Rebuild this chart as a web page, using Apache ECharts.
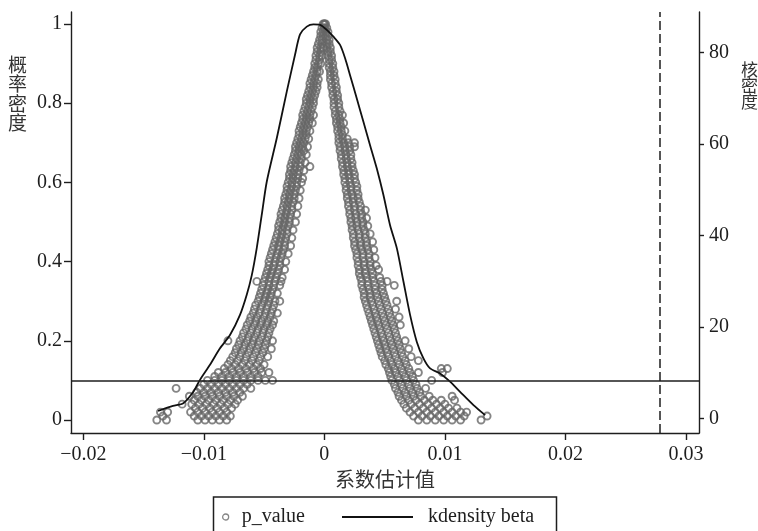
<!DOCTYPE html>
<html>
<head>
<meta charset="utf-8">
<script src="https://cdn.jsdelivr.net/npm/echarts@6/dist/echarts.min.js"></script>
<style>
html,body{margin:0;padding:0;background:#fff;}
#chart{width:758px;height:531px;}
</style>
</head>
<body>
<div id="chart"></div>
<script>
// ---- data ----
const xTicks = [-0.02, -0.01, 0, 0.01, 0.02, 0.03];
const yLeftTicks = [0, 0.2, 0.4, 0.6, 0.8, 1];
const yRightTicks = [0, 20, 40, 60, 80];
const pThreshold = 0.1;
const betaRef = 0.0278;

// kernel density of beta (right axis)
const kdBeta = [-0.0138,-0.01256,-0.0117,-0.01087,-0.01032,-0.00949,-0.00866,-0.00783,-0.0070,-0.00644,-0.00602,-0.00561,-0.0052,-0.00478,-0.00395,-0.00312,-0.00243,-0.00202,-0.00146,-0.00091,-0.00036,0.0002,0.00075,0.0013,0.00172,0.00213,0.00269,0.00324,0.00379,0.00435,0.0049,0.00545,0.00601,0.00656,0.00711,0.00767,0.00822,0.00877,0.0096,0.01043,0.01126,0.01237,0.01334];
const kdDens = [1.6,2.7,3.3,5.8,8.4,11.7,15.3,18.2,22.6,27.0,31.3,37.2,44.4,51.7,61.2,71.4,79.5,83.9,85.6,86.1,86.0,84.9,83.4,81.6,78.7,75.0,69.9,64.8,59.7,54.6,48.8,42.2,37.2,29.9,22.6,16.7,13.1,10.9,9.8,8.0,5.8,2.9,0.7];

// p_value rows: [p, beta1, beta2, ...]  (negative-beta branch)
const pRowsLeft = [
[1.00,-0.0001,0.0000],[0.99,-0.0002,0.0000],[0.98,-0.0003,-0.0001],[0.97,-0.0003,-0.0001],
[0.96,-0.0004,-0.0002],[0.95,-0.0005,-0.0002],[0.94,-0.0006,-0.0003,-0.0001],[0.93,-0.0006,-0.0003],
[0.92,-0.0007,-0.0004,-0.0002],[0.91,-0.0007,-0.0004],[0.90,-0.0008,-0.0005,-0.0003],[0.89,-0.0008,-0.0006],
[0.88,-0.0009,-0.0006,-0.0004],[0.87,-0.0010,-0.0007],[0.86,-0.0011,-0.0008,-0.0005],[0.85,-0.0012,-0.0009,-0.0006],
[0.84,-0.0012,-0.0009,-0.0006],[0.83,-0.0013,-0.0010,-0.0007],[0.82,-0.0014,-0.0011,-0.0008],[0.81,-0.0015,-0.0012,-0.0009],
[0.80,-0.0015,-0.0012,-0.0009],[0.79,-0.0016,-0.0013,-0.0010],[0.78,-0.0017,-0.0014,-0.0011],[0.77,-0.0018,-0.0015,-0.0012,-0.0009],
[0.76,-0.0018,-0.0015,-0.0012],[0.75,-0.0019,-0.0016,-0.0013,-0.0010],[0.74,-0.0020,-0.0017,-0.0014],[0.73,-0.0021,-0.0018,-0.0015,-0.0012],
[0.72,-0.0021,-0.0018,-0.0015],[0.71,-0.0022,-0.0019,-0.0016,-0.0013],[0.70,-0.0023,-0.0020,-0.0017],[0.69,-0.0024,-0.0021,-0.0018,-0.0014],
[0.68,-0.0024,-0.0021,-0.0017],[0.67,-0.0025,-0.0022,-0.0019,-0.0015],[0.66,-0.0026,-0.0023,-0.0019],[0.65,-0.0027,-0.0024,-0.0020,-0.0016],
[0.64,-0.0028,-0.0024,-0.0020,-0.0012],[0.63,-0.0028,-0.0025,-0.0021,-0.0017],[0.62,-0.0029,-0.0026,-0.0022],[0.61,-0.0029,-0.0026,-0.0022,-0.0018],
[0.60,-0.0030,-0.0027,-0.0023,-0.0019],[0.59,-0.0031,-0.0027,-0.0023],[0.58,-0.0031,-0.0028,-0.0024,-0.0020],[0.57,-0.0032,-0.0029,-0.0025],
[0.56,-0.0033,-0.0029,-0.0025,-0.0021],[0.55,-0.0033,-0.0030,-0.0026],[0.54,-0.0034,-0.0031,-0.0027,-0.0022],[0.53,-0.0035,-0.0031,-0.0027],
[0.52,-0.0036,-0.0032,-0.0028,-0.0023],[0.51,-0.0036,-0.0033,-0.0029],[0.50,-0.0037,-0.0033,-0.0029,-0.0024],[0.49,-0.0038,-0.0034,-0.0030],
[0.48,-0.0038,-0.0035,-0.0031,-0.0026],[0.47,-0.0039,-0.0035,-0.0031],[0.46,-0.0040,-0.0036,-0.0032,-0.0027],[0.45,-0.0041,-0.0037,-0.0033],
[0.44,-0.0042,-0.0038,-0.0033,-0.0028],[0.43,-0.0043,-0.0038,-0.0034],[0.42,-0.0044,-0.0039,-0.0035,-0.0030],[0.41,-0.0045,-0.0040,-0.0036],
[0.40,-0.0046,-0.0041,-0.0037,-0.0032],[0.39,-0.0046,-0.0042,-0.0037],[0.38,-0.0047,-0.0043,-0.0038,-0.0033],[0.37,-0.0048,-0.0044,-0.0039],
[0.36,-0.0049,-0.0045,-0.0040,-0.0035],[0.35,-0.0056,-0.0050,-0.0046,-0.0041,-0.0036],[0.34,-0.0051,-0.0046,-0.0042,-0.0037],[0.33,-0.0052,-0.0047,-0.0043],
[0.32,-0.0053,-0.0048,-0.0044,-0.0039],[0.31,-0.0054,-0.0049,-0.0045],[0.30,-0.0055,-0.0050,-0.0046,-0.0041,-0.0037],
[0.29,-0.0057,-0.0052,-0.0047,-0.0042],[0.28,-0.0058,-0.0053,-0.0048,-0.0043],[0.27,-0.0059,-0.0054,-0.0049,-0.0044,-0.0039],
[0.26,-0.0061,-0.0056,-0.0050,-0.0045],[0.25,-0.0062,-0.0057,-0.0052,-0.0047,-0.0042],[0.24,-0.0064,-0.0058,-0.0053,-0.0048,-0.0043],
[0.23,-0.0065,-0.0060,-0.0055,-0.0050,-0.0045],[0.22,-0.0067,-0.0061,-0.0056,-0.0051,-0.0046],[0.21,-0.0068,-0.0063,-0.0058,-0.0052,-0.0047],
[0.20,-0.0080,-0.0070,-0.0064,-0.0059,-0.0054,-0.0048,-0.0043],[0.19,-0.0071,-0.0066,-0.0060,-0.0055,-0.0049],
[0.18,-0.0073,-0.0067,-0.0062,-0.0056,-0.0050,-0.0044],[0.17,-0.0074,-0.0069,-0.0063,-0.0057,-0.0051],
[0.16,-0.0076,-0.0070,-0.0065,-0.0059,-0.0053,-0.0047],[0.15,-0.0078,-0.0072,-0.0066,-0.0060,-0.0054],
[0.14,-0.0080,-0.0074,-0.0068,-0.0062,-0.0056,-0.0050],[0.13,-0.0083,-0.0077,-0.0071,-0.0065,-0.0059,-0.0053],
[0.12,-0.0088,-0.0082,-0.0076,-0.0070,-0.0064,-0.0058,-0.0052,-0.0046],[0.11,-0.0091,-0.0085,-0.0079,-0.0073,-0.0067,-0.0061,-0.0055],
[0.10,-0.0097,-0.0091,-0.0085,-0.0079,-0.0073,-0.0067,-0.0061,-0.0055,-0.0049,-0.0043],[0.09,-0.0100,-0.0094,-0.0088,-0.0082,-0.0076,-0.0070,-0.0064],
[0.08,-0.0123,-0.0103,-0.0097,-0.0091,-0.0085,-0.0079,-0.0073,-0.0067,-0.0061],[0.07,-0.0106,-0.0100,-0.0094,-0.0088,-0.0082,-0.0076,-0.0070],
[0.06,-0.0112,-0.0105,-0.0099,-0.0093,-0.0087,-0.0081,-0.0075,-0.0068],[0.05,-0.0108,-0.0102,-0.0096,-0.0090,-0.0084,-0.0078,-0.0072],
[0.04,-0.0118,-0.0110,-0.0104,-0.0098,-0.0092,-0.0086,-0.0080,-0.0074],[0.03,-0.0107,-0.0101,-0.0095,-0.0089,-0.0083,-0.0077],
[0.02,-0.0136,-0.0130,-0.0111,-0.0105,-0.0099,-0.0093,-0.0087,-0.0081],[0.01,-0.0134,-0.0108,-0.0102,-0.0096,-0.0090,-0.0084,-0.0078],
[0.00,-0.0139,-0.0131,-0.0105,-0.0099,-0.0093,-0.0087,-0.0081]
];

// p_value rows: [p, beta1, beta2, ...]  (positive-beta branch)
const pRowsRight = [
[1.00,0.0000,0.0001],[0.99,0.0000,0.0002],[0.98,0.0001,0.0003],[0.97,0.0001,0.0003],
[0.96,0.0002,0.0004],[0.95,0.0002,0.0004],[0.94,0.0002,0.0005],[0.93,0.0003,0.0005],
[0.92,0.0003,0.0006],[0.91,0.0004,0.0006],[0.90,0.0004,0.0007],[0.89,0.0004,0.0007],
[0.88,0.0005,0.0008],[0.87,0.0005,0.0008],[0.86,0.0005,0.0009],[0.85,0.0006,0.0009],
[0.84,0.0006,0.0010],[0.83,0.0007,0.0010],[0.82,0.0007,0.0011],[0.81,0.0008,0.0011],
[0.80,0.0008,0.0012],[0.79,0.0008,0.0012],[0.78,0.0009,0.0013],[0.77,0.0009,0.0012,0.0015],
[0.76,0.0010,0.0013],[0.75,0.0010,0.0013,0.0016],[0.74,0.0011,0.0014],[0.73,0.0011,0.0014,0.0017],
[0.72,0.0012,0.0015],[0.71,0.0012,0.0015,0.0019],[0.70,0.0012,0.0016,0.0020,0.0025],[0.69,0.0013,0.0017,0.0021,0.0025],
[0.68,0.0013,0.0017,0.0021],[0.67,0.0014,0.0018,0.0022],[0.66,0.0014,0.0018,0.0022],[0.65,0.0015,0.0019,0.0023],
[0.64,0.0015,0.0019,0.0023],[0.63,0.0016,0.0020,0.0024],[0.62,0.0016,0.0020,0.0025],[0.61,0.0017,0.0021,0.0025],
[0.60,0.0017,0.0021,0.0026],[0.59,0.0018,0.0022,0.0027],[0.58,0.0018,0.0022,0.0027],[0.57,0.0019,0.0023,0.0028],
[0.56,0.0019,0.0024,0.0028],[0.55,0.0020,0.0024,0.0029],[0.54,0.0020,0.0025,0.0030],[0.53,0.0021,0.0025,0.0030,0.0034],
[0.52,0.0021,0.0026,0.0031],[0.51,0.0022,0.0026,0.0031,0.0035],[0.50,0.0022,0.0027,0.0032],[0.49,0.0023,0.0027,0.0032,0.0036],
[0.48,0.0023,0.0028,0.0033],[0.47,0.0024,0.0029,0.0034,0.0038],[0.46,0.0024,0.0029,0.0034],[0.45,0.0025,0.0030,0.0035,0.0040],
[0.44,0.0025,0.0030,0.0035],[0.43,0.0026,0.0031,0.0036,0.0041],[0.42,0.0027,0.0032,0.0037],[0.41,0.0027,0.0032,0.0037,0.0042],
[0.40,0.0028,0.0033,0.0038],[0.39,0.0028,0.0033,0.0038,0.0043],[0.38,0.0029,0.0034,0.0039,0.0045],[0.37,0.0029,0.0034,0.0040],
[0.36,0.0030,0.0035,0.0040,0.0046],[0.35,0.0031,0.0036,0.0041,0.0047,0.0052],[0.34,0.0031,0.0036,0.0042,0.0048,0.0058],[0.33,0.0032,0.0037,0.0042,0.0048],
[0.32,0.0033,0.0038,0.0043,0.0049],[0.31,0.0033,0.0038,0.0044,0.0050],[0.30,0.0034,0.0039,0.0045,0.0051,0.0060],
[0.29,0.0035,0.0040,0.0046,0.0052],[0.28,0.0036,0.0041,0.0047,0.0053,0.0059],[0.27,0.0037,0.0042,0.0048,0.0054],
[0.26,0.0038,0.0043,0.0049,0.0055,0.0062],[0.25,0.0039,0.0044,0.0050,0.0056],[0.24,0.0040,0.0045,0.0051,0.0057,0.0063],
[0.23,0.0041,0.0046,0.0052,0.0058],[0.22,0.0042,0.0047,0.0053,0.0059],[0.21,0.0043,0.0048,0.0054,0.0060],
[0.20,0.0044,0.0049,0.0055,0.0061,0.0067],[0.19,0.0045,0.0050,0.0056,0.0062],[0.18,0.0046,0.0051,0.0057,0.0063,0.0070],
[0.17,0.0047,0.0052,0.0058,0.0064],[0.16,0.0048,0.0053,0.0059,0.0065,0.0072],[0.15,0.0050,0.0055,0.0061,0.0067,0.0078],
[0.14,0.0051,0.0056,0.0062,0.0068],[0.13,0.0053,0.0058,0.0064,0.0070,0.0097,0.0102],[0.12,0.0054,0.0059,0.0065,0.0071,0.0078,0.0098],
[0.11,0.0055,0.0061,0.0067,0.0073],[0.10,0.0056,0.0062,0.0068,0.0074,0.0089],[0.09,0.0058,0.0064,0.0070,0.0076],
[0.08,0.0059,0.0065,0.0071,0.0077,0.0084],[0.07,0.0061,0.0067,0.0073,0.0079],[0.06,0.0062,0.0068,0.0074,0.0080,0.0087,0.0106],
[0.05,0.0064,0.0070,0.0076,0.0083,0.0090,0.0097,0.0108],[0.04,0.0066,0.0072,0.0079,0.0086,0.0093,0.0100],
[0.03,0.0068,0.0075,0.0082,0.0089,0.0096,0.0103,0.0110],[0.02,0.0071,0.0078,0.0085,0.0092,0.0099,0.0106,0.0113,0.0118],
[0.01,0.0074,0.0081,0.0088,0.0095,0.0102,0.0109,0.0116,0.0135],[0.00,0.0078,0.0085,0.0092,0.0099,0.0106,0.0113,0.0130]
];

// ---- build ----
function rowsToPoints(rows){
  const out = [];
  rows.forEach(r => { for (let i = 1; i < r.length; i++) out.push([r[i], r[0]]); });
  return out;
}
const pvaluePoints = rowsToPoints(pRowsLeft).concat(rowsToPoints(pRowsRight));
const kdPoints = kdBeta.map((b, i) => [b, kdDens[i]]);

const SERIF = '"Liberation Serif","DejaVu Serif",serif';
const CJK = '"Noto Sans CJK SC","Noto Sans CJK JP",sans-serif';
const INK = '#1e1e1e';
const fmtNum = v => (v < 0 ? '\u2212' : '') + String(Math.abs(v));

const chart = echarts.init(document.getElementById('chart'), null, {renderer: 'canvas'});
chart.setOption({
  animation: false,
  backgroundColor: '#fff',
  grid: {left: 71, right: 59, top: 12, bottom: 98, containLabel: false},
  xAxis: {
    type: 'value', min: -0.02102, max: 0.03108,
    name: '系数估计值', nameLocation: 'middle', nameGap: 35,
    nameTextStyle: {fontFamily: CJK, fontSize: 20, color: '#333'},
    axisLine: {show: true, onZero: false, lineStyle: {color: INK, width: 1.4}},
    axisTick: {show: true, length: 7, customValues: xTicks, lineStyle: {color: INK, width: 1.4}},
    axisLabel: {customValues: xTicks, margin: 12, fontFamily: SERIF, fontSize: 20, color: INK, formatter: fmtNum},
    splitLine: {show: false}
  },
  yAxis: [{
    type: 'value', position: 'left', min: -0.0328, max: 1.0303,
    axisLine: {show: true, onZero: false, lineStyle: {color: INK, width: 1.4}},
    axisTick: {show: true, length: 7, customValues: yLeftTicks, lineStyle: {color: INK, width: 1.4}},
    axisLabel: {customValues: yLeftTicks, margin: 9, fontFamily: SERIF, fontSize: 20, color: INK, formatter: fmtNum},
    splitLine: {show: false}
  }, {
    type: 'value', position: 'right', min: -3.21, max: 88.8,
    axisLine: {show: true, onZero: false, lineStyle: {color: INK, width: 1.4}},
    axisTick: {show: true, length: 5, customValues: yRightTicks, lineStyle: {color: INK, width: 1.4}},
    axisLabel: {customValues: yRightTicks, margin: 10, fontFamily: SERIF, fontSize: 20, color: INK, formatter: fmtNum},
    splitLine: {show: false}
  }],
  legend: [{
    data: [{name: 'p_value', icon: 'circle', itemStyle: {color: 'transparent', borderColor: '#666', borderWidth: 1.3}}],
    left: 222, top: 507, padding: 0, itemWidth: 6, itemHeight: 6,
    textStyle: {fontFamily: SERIF, fontSize: 20, color: INK, padding: [0, 0, 0, 8]},
    selectedMode: false
  }, {
    data: [{name: 'kdensity beta', icon: 'rect', itemStyle: {color: '#111', borderWidth: 0}}],
    left: 342, top: 507, padding: 0, itemWidth: 71, itemHeight: 2,
    textStyle: {fontFamily: SERIF, fontSize: 20, color: INK, padding: [0, 0, 0, 10]},
    selectedMode: false
  }],
  graphic: [
    {type: 'rect', shape: {x: 213.5, y: 497, width: 343, height: 45}, style: {fill: 'none', stroke: INK, lineWidth: 1.5}, silent: true},
    {type: 'text', left: 8, top: 55, style: {text: '概\n率\n密\n度', font: '19px "Noto Sans CJK SC"', lineHeight: 19.5, fill: '#333'}},
    {type: 'text', left: 741, top: 61, style: {text: '核\n密\n度', font: '17px "Noto Sans CJK SC"', lineHeight: 16, fill: '#333'}}
  ],
  series: [{
    name: 'p_value', type: 'scatter', yAxisIndex: 0,
    data: pvaluePoints, symbol: 'circle', symbolSize: 7,
    itemStyle: {color: 'transparent', borderColor: '#666', borderWidth: 1.9},
    markLine: {
      silent: true, precision: 6, symbol: ['none', 'none'], label: {show: false},
      lineStyle: {color: INK, width: 1.5, type: 'solid'},
      data: [{yAxis: pThreshold}]
    }
  }, {
    name: 'kdensity beta', type: 'line', yAxisIndex: 1,
    data: kdPoints, symbol: 'none', smooth: 0.25,
    lineStyle: {color: '#111', width: 1.8},
    itemStyle: {color: '#111'},
    markLine: {
      silent: true, precision: 6, symbol: ['none', 'none'], label: {show: false},
      lineStyle: {color: INK, width: 1.5, type: [9, 4]},
      data: [{xAxis: betaRef}]
    }
  }]
});
</script>
</body>
</html>
